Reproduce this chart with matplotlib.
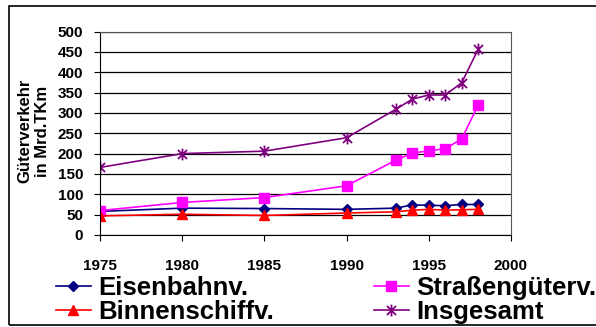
import numpy as np
import matplotlib
matplotlib.use('Agg')
import matplotlib.pyplot as plt
from matplotlib.path import Path
from matplotlib.patches import Rectangle

plt.rcParams['font.family'] = ['Liberation Sans', 'DejaVu Sans']
plt.rcParams['font.weight'] = 'bold'

years = [1975, 1980, 1985, 1990, 1993, 1994, 1995, 1996, 1997, 1998]
eisenbahn = [58, 66, 65, 63, 66, 74, 73, 72, 75, 75]
strassen = [60, 80, 92, 121, 184, 201, 207, 212, 236, 319]
binnen = [47, 51, 48, 54, 57, 61, 63, 61, 62, 63]
insgesamt = [166, 200, 206, 239, 309, 334, 344, 344, 374, 456]

labels = ['Eisenbahnv.', 'Straßengüterv.', 'Binnenschiffv.', 'Insgesamt']
xticks = [1975, 1980, 1985, 1990, 1995, 2000]
yticks = list(range(0, 501, 50))

# excel style star: an x with a vertical bar through it
star = Path([(-1, -1), (1, 1), (-1, 1), (1, -1), (0, -1.3), (0, 1.3)],
            [Path.MOVETO, Path.LINETO, Path.MOVETO, Path.LINETO, Path.MOVETO, Path.LINETO])

fig = plt.figure(figsize=(5.96, 3.27), dpi=100)
fig.patches.append(Rectangle((9 / 596, 2 / 327), 1.0, 1 - 8 / 327, transform=fig.transFigure,
                             fill=False, edgecolor='black', linewidth=1.2))

ax = fig.add_axes([100 / 596, 1 - 235 / 327, 411 / 596, 203.5 / 327])

l1, = ax.plot(years, eisenbahn, color='#000080', marker='D', ms=5, lw=1.2, label=labels[0])
l2, = ax.plot(years, strassen, color='#FF00FF', marker='s', ms=7, lw=1.2, label=labels[1])
l3, = ax.plot(years, binnen, color='#FF0000', marker='^', ms=7.5, lw=1.2, label=labels[2])
l4, = ax.plot(years, insgesamt, color='#800080', marker=star, ms=8.5, mew=1.3, lw=1.2, label=labels[3])

ax.set_xlim(1975, 2000)
ax.set_ylim(0, 500)
ax.set_xticks(xticks)
ax.set_yticks(yticks)
ax.yaxis.grid(True, color='black', lw=0.9)
ax.set_axisbelow(True)
ax.tick_params(axis='x', direction='out', length=4, pad=13, labelsize=11, color='black')
ax.tick_params(axis='y', direction='out', length=4, pad=8, labelsize=11, color='black')
for s in ['left', 'bottom']:
    ax.spines[s].set_color('black')
for s in ['top', 'right']:
    ax.spines[s].set_color('#555555')

fig.text(34 / 596, 1 - 131 / 327, 'Güterverkehr\nin Mrd.TKm', rotation=90,
         ha='center', va='center', multialignment='center', fontsize=12, fontweight='bold')

leg_kw = dict(frameon=False, fontsize=18.5, borderpad=0, borderaxespad=0, handlelength=1.35,
              handletextpad=0.28, labelspacing=0.0, loc='center left')
fig.legend([l1, l3], [labels[0], labels[2]], bbox_to_anchor=(56 / 596, 1 - 300 / 327), **leg_kw)
fig.legend([l2, l4], [labels[1], labels[3]], bbox_to_anchor=(374 / 596, 1 - 300 / 327), **leg_kw)

fig.savefig('out.png', dpi=100)
